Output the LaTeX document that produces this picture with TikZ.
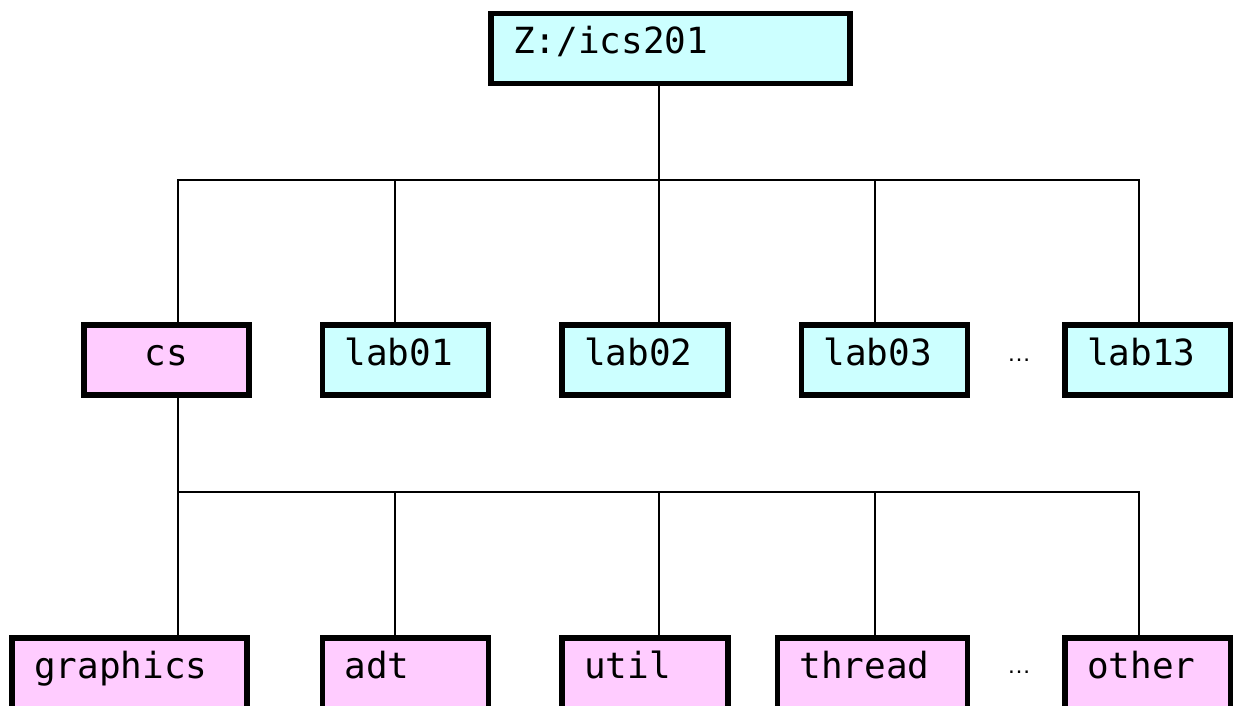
\documentclass[tikz,border=0pt]{standalone}
\usepackage{fontspec}
\setmainfont{Liberation Sans}
\newfontfamily\dirfont{DejaVu Sans Mono}
\usetikzlibrary{positioning}

\definecolor{dircyan}{HTML}{CCFFFF}
\definecolor{dirpink}{HTML}{FFCCFF}

\tikzset{
  dir/.style={draw, line width=5.5pt, minimum height=70pt, inner xsep=22pt,
    inner ysep=0pt, align=left, text width=#1, text height=30pt,
    text depth=20pt, font=\dirfont\fontsize{36}{40}\selectfont},
  dir/.default=122pt,
  cdir/.style={dir=#1, fill=dircyan},
  cdir/.default=122pt,
  pdir/.style={dir=#1, fill=dirpink, minimum height=80pt, text depth=30pt},
  pdir/.default=122pt,
  link/.style={draw, line width=2.2pt},
  more/.style={font=\fontsize{24}{26}\selectfont}
}

\begin{document}
\begin{tikzpicture}[x=1pt, y=-1pt]
  \fill[white] (0,0) rectangle (1233,705);
  \useasboundingbox (0,0) rectangle (1233,705);
  \clip (0,0) rectangle (1233,705);

  \node[cdir=315pt] (root) at (670.5,48.5) {Z:/ics201};

  \node[dir=121pt, fill=dirpink, align=center] (cs) at (166.5,360) {cs};
  \node[cdir, right=68pt of cs]    (lab01) {lab01};
  \node[cdir, right=68pt of lab01] (lab02) {lab02};
  \node[cdir, right=68pt of lab02] (lab03) {lab03};
  \node[cdir, right=92pt of lab03] (lab13) {lab13};
  \node[more] (more1) at (1019,360) {\ldots};

  \node[pdir=191pt] (graphics) at (129.5,678) {graphics};
  \node[pdir, right=70pt of graphics] (adt)    {adt};
  \node[pdir, right=68pt of adt]      (util)   {util};
  \node[pdir=146pt, right=44pt of util] (thread) {thread};
  \node[pdir, right=92pt of thread]   (other)  {other};
  \node[more] (more2) at (1019,672) {\ldots};

  % tree lines
  \coordinate (bus1) at (659,180);
  \coordinate (bus2) at (178,492);
  \draw[link] (root.south -| bus1) -- (bus1);
  \foreach \n/\x in {cs/178, lab01/395, lab02/659, lab03/875, lab13/1139}
    \draw[link] (\n.north -| \x,0) |- (bus1);
  \draw[link] (cs.south -| bus2) -- (bus2);
  \foreach \n/\x in {graphics/178, adt/395, util/659, thread/875, other/1139}
    \draw[link] (\n.north -| \x,0) |- (bus2);
\end{tikzpicture}
\end{document}
